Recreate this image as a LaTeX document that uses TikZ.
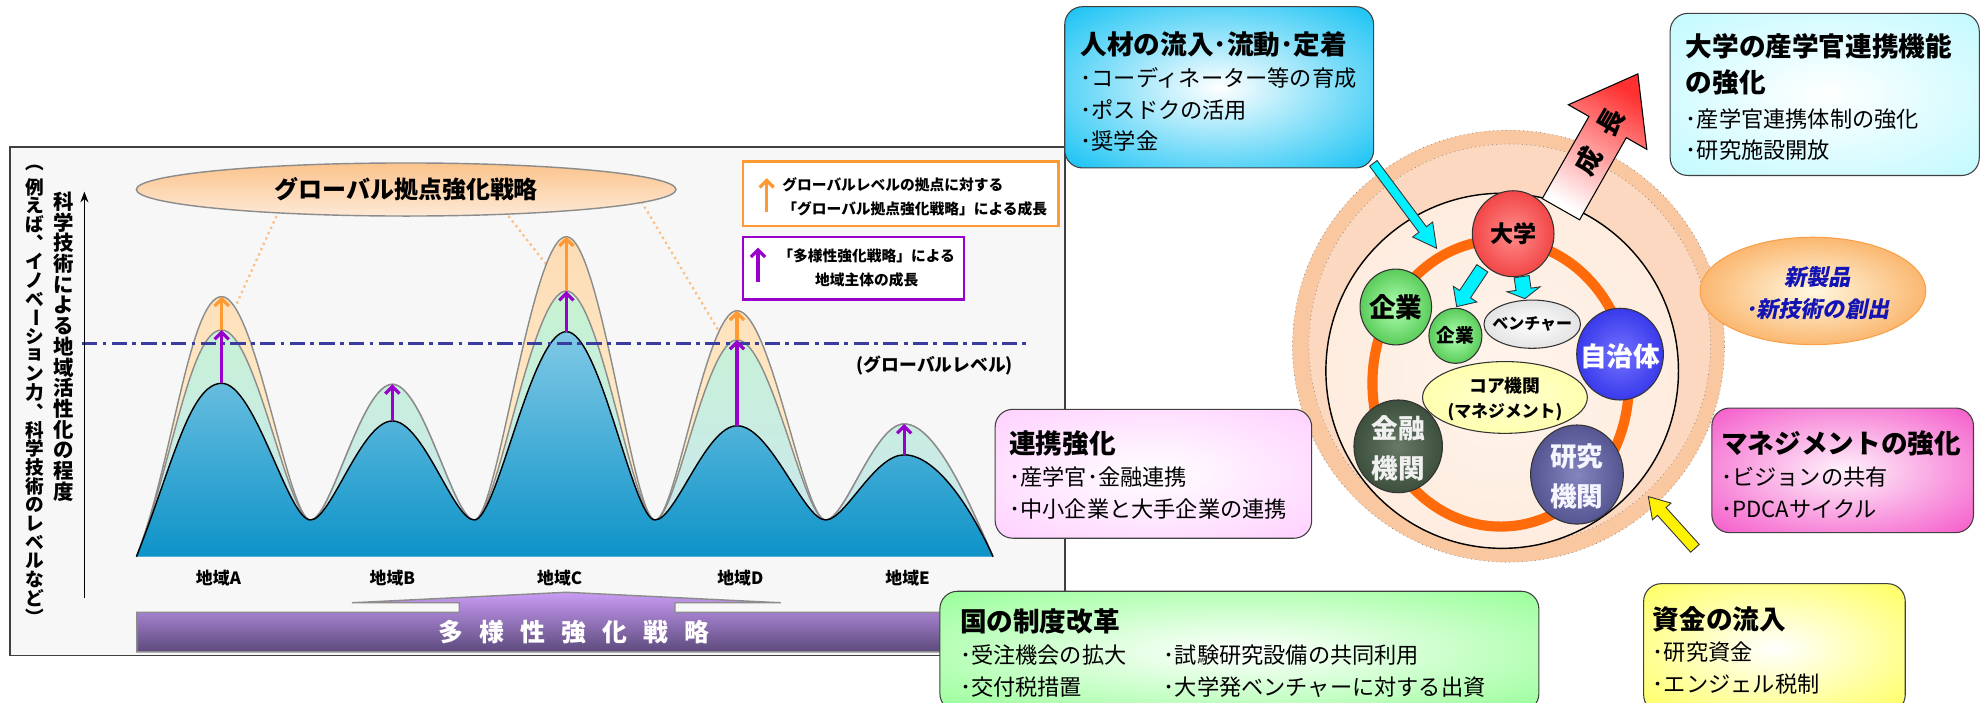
\documentclass[tikz,border=0pt]{standalone}
\usepackage{fontspec}
\setmainfont{Noto Sans CJK JP}
\newfontfamily\slantjp{Noto Sans CJK JP}[FakeSlant=0.2]
\usetikzlibrary{arrows.meta,calc,shapes.geometric}

% colours
\definecolor{panelbg}{HTML}{F7F7F7}
\definecolor{peakbluetop}{HTML}{80C9E6}
\definecolor{peakblue}{HTML}{0E93C8}
\definecolor{peakgreen}{HTML}{C6F3D0}
\definecolor{peakgreenlow}{HTML}{CCE6F2}
\definecolor{peakorange}{HTML}{FDDCB6}
\definecolor{peakorangelow}{HTML}{FFF3D0}
\definecolor{levelblue}{HTML}{3B3C9F}
\definecolor{growpurple}{HTML}{9900CC}
\definecolor{groworange}{HTML}{FF9A33}
\definecolor{guideorange}{HTML}{FBC08A}
\definecolor{titletop}{HTML}{FBC38C}
\definecolor{titlelow}{HTML}{FEE9D6}
\definecolor{barlight}{HTML}{C99CF5}
\definecolor{bardark}{HTML}{5C4A7C}
\definecolor{ringout}{HTML}{F9C8A0}
\definecolor{ringmid}{HTML}{FCD8C0}
\definecolor{ringin}{HTML}{FDE4D2}
\definecolor{ringlight}{HTML}{FFF4EC}
\definecolor{ringorange}{HTML}{FF6A0A}
\definecolor{boxcyan}{HTML}{1EC4F4}
\definecolor{boxaqua}{HTML}{C4FAFF}
\definecolor{boxpink}{HTML}{FFD2FF}
\definecolor{boxmagenta}{HTML}{F560CC}
\definecolor{boxyellow}{HTML}{FFFF66}
\definecolor{boxgreen}{HTML}{9CFF9C}
\definecolor{arrowcyan}{HTML}{00F0FF}
\definecolor{newblue}{HTML}{1414B4}
\definecolor{neworange}{HTML}{F9A048}
\definecolor{newlight}{HTML}{FFF8E0}
\definecolor{seichored}{HTML}{FF3030}
\definecolor{kinyuin}{HTML}{667A66}
\definecolor{kinyuout}{HTML}{142414}
\definecolor{kenkyuin}{HTML}{8484BE}
\definecolor{kenkyuout}{HTML}{262666}

% radial fills, inner colour in the middle, outer colour towards the rim
\makeatletter
\pgfdeclareradialshading[tikz@radial@inner,tikz@radial@outer]{glow}{\pgfpointorigin}{%
  color(0bp)=(tikz@radial@inner); color(34bp)=(tikz@radial@outer); color(50bp)=(tikz@radial@outer)}
\pgfdeclareradialshading[tikz@radial@inner,tikz@radial@outer]{sphere}{\pgfpointorigin}{%
  color(0bp)=(tikz@radial@inner); color(50bp)=(tikz@radial@outer)}
\makeatother

\tikzset{
  glow/.style 2 args={inner color=#1, outer color=#2, shading=glow},
  sphere/.style 2 args={inner color=#1, outer color=#2, shading=sphere},
  panel/.style={draw=black!75, line width=0.8pt, fill=panelbg},
  guide/.style={guideorange, line width=1.3pt, dotted},
  ridgeline/.style={draw=black!45, line width=0.8pt},
  levelline/.style={levelblue, line width=1.8pt, dash pattern=on 8.5pt off 3pt on 2.2pt off 3pt},
  purplegrow/.style={growpurple, line width=1.8pt, -{Straight Barb[length=4pt,width=8pt]}},
  orangegrow/.style={groworange, line width=1.8pt, -{Straight Barb[length=4pt,width=8pt]}},
  region/.style={inner sep=0pt, font=\bfseries\fontsize{9.5}{11}\selectfont},
  tate/.style={inner sep=0pt},
  legendbox/.style={line width=1.5pt, fill=white, inner sep=0pt},
  legendtext/.style={inner sep=0pt, font=\bfseries\fontsize{8.3}{13.2}\selectfont},
  infobox/.style={rectangle, draw=black!75, line width=0.6pt, rounded corners=0.35cm, inner sep=0pt},
  boxtext/.style={anchor=west, align=left, inner sep=0pt, font=\fontsize{12.5}{17.8}\selectfont},
  ball/.style={ellipse, draw=black!80, line width=0.6pt, inner sep=0pt},
  balltext/.style={inner sep=0pt, align=center, font=\bfseries\fontsize{15}{22.5}\selectfont},
  cyanarrow/.style={draw=black!80, line width=0.5pt, fill=arrowcyan},
}

\newcommand{\boxhead}[1]{{\bfseries\fontsize{15}{17.8}\selectfont #1}}

% one row of mountains, the arguments are the five peak heights
\newcommand{\ridge}[5]{%
  (108,-440.6) .. controls (136,-370) and (150,-#1) .. (175.5,-#1)
  .. controls (202,-#1) and (228,-411.6) .. (245.8,-411.6)
  .. controls (262,-411.6) and (286,-#2) .. (310.6,-#2)
  .. controls (335,-#2) and (359,-411.6) .. (375.4,-411.6)
  .. controls (393.6,-411.6) and (420.6,-#3) .. (448.3,-#3)
  .. controls (475,-#3) and (501,-411.6) .. (518.5,-411.6)
  .. controls (534.7,-411.6) and (558.7,-#4) .. (583.4,-#4)
  .. controls (610,-#4) and (636,-411.6) .. (653.5,-411.6)
  .. controls (669,-411.6) and (692,-#5) .. (715.7,-#5)
  .. controls (742,-#5) and (770,-405) .. (786,-440.6)}

% block arrow: style, tail, tip, half shaft, half head, head length
\newcommand{\blockarrow}[6]{%
  \coordinate (neck) at ($(#3)!#6!(#2)$);
  \draw[#1] ($(#2)!#4!90:(#3)$) -- ($(neck)!#4!90:(#3)$)
    -- ($(neck)!#5!90:(#3)$) -- (#3)
    -- ($(neck)!#5!-90:(#3)$) -- ($(neck)!#4!-90:(#3)$)
    -- ($(#2)!#4!-90:(#3)$) -- cycle;}

\begin{document}
\begin{tikzpicture}[x=0.025cm, y=0.025cm]
  \useasboundingbox (0,0) rectangle (1568,-556);

  % left panel
  \draw[panel] (8,-116.5) rectangle (843,-519);

  % dotted guides from the strategy title
  \coordinate (guide-a0) at (218.8,-171); \coordinate (guide-a1) at (186.3,-242.7);
  \coordinate (guide-c0) at (402.4,-171); \coordinate (guide-c1) at (434.8,-212.4);
  \coordinate (guide-d0) at (507.7,-159.6); \coordinate (guide-d1) at (569.9,-263.8);
  \draw[guide] (guide-a0) -- (guide-a1);
  \draw[guide] (guide-c0) -- (guide-c1);
  \draw[guide] (guide-d0) -- (guide-d1);

  \node[ellipse, draw=black!45, line width=0.8pt, inner sep=0pt, top color=titletop, bottom color=titlelow,
    minimum width=10.675cm, minimum height=1.05cm, font=\bfseries\fontsize{13.5}{16}\selectfont]
    (global) at (321.5,-150) {グローバル拠点強化戦略};

  % mountains
  \path[top color=peakorange, bottom color=peakorangelow] \ridge{234.8}{304.2}{187.3}{245.9}{335.6} -- cycle;
  \draw[ridgeline] \ridge{234.8}{304.2}{187.3}{245.9}{335.6};
  \path[top color=peakgreen, bottom color=peakgreenlow] \ridge{261.2}{304.2}{230.3}{269}{335.6} -- cycle;
  \draw[ridgeline] \ridge{261.2}{304.2}{230.3}{269}{335.6};
  \path[top color=peakbluetop, bottom color=peakblue] \ridge{303.4}{333.2}{262.5}{337}{360} -- cycle;
  \draw[line width=0.8pt] \ridge{303.4}{333.2}{262.5}{337}{360};

  \foreach \n/\x/\yb/\yg/\yo in {a/175.5/303.4/261.2/234.8, b/310.6/333.2/304.2/304.2,
      c/448.3/262.5/230.3/187.3, d/583.4/337/269/245.9, e/715.7/360/335.6/335.6} {
    \coordinate (blue-\n) at (\x,-\yb);
    \coordinate (green-\n) at (\x,-\yg);
    \coordinate (orange-\n) at (\x,-\yo);
  }

  % global level
  \coordinate (level-l) at (65,-271.8);
  \coordinate (level-r) at (813,-271.8);
  \draw[levelline] (level-l) -- (level-r);
  \node[inner sep=0pt, font=\bfseries\fontsize{10}{12}\selectfont] (level-txt) at (740,-289) {(グローバルレベル)};

  % growth of each region
  \foreach \n in {a,b,c,d,e}
    \draw[purplegrow] (blue-\n) -- (green-\n);
  \foreach \n in {a,c,d}
    \draw[orangegrow] (green-\n) -- (orange-\n);

  \foreach \n/\x/\t in {a/172.9/A, b/310.6/B, c/443/C, d/586/D, e/718.4/E}
    \node[region] (region-\n) at (\x,-457.8) {地域\t};

  % diversity strategy bar
  \path[draw=black!45, line width=0.8pt, top color=barlight, bottom color=bardark]
    (108.3,-484.6) -- (363.5,-484.6) -- (363.5,-477.1) -- (278.6,-477.1) -- (448.3,-468.8)
    -- (618,-477.1) -- (534.3,-477.1) -- (534.3,-484.6) -- (790,-484.6) -- (790,-516)
    -- (108.3,-516) -- cycle;
  \node[inner sep=0pt, text=white, font=\bfseries\fontsize{14}{16}\selectfont\addfontfeatures{LetterSpace=65}]
    (bar-txt) at (454,-500) {多様性強化戦略};

  % legend
  \node[legendbox, draw=groworange, minimum width=6.25cm, minimum height=1.275cm] (legend-global) at (713,-153.5) {};
  \node[legendtext, anchor=west, align=left] (legend-global-txt) at (619,-155.7)
    {グローバルレベルの拠点に対する\\「グローバル拠点強化戦略」による成長};
  \coordinate (legend-o0) at (606.8,-167.5);
  \coordinate (legend-o1) at (606.8,-141);
  \draw[orangegrow] (legend-o0) -- (legend-o1);

  \node[legendbox, draw=growpurple, minimum width=4.375cm, minimum height=1.23cm] (legend-local) at (675.5,-212.2) {};
  \node[legendtext, align=center] (legend-local-txt) at (686,-212) {「多様性強化戦略」による\\地域主体の成長};
  \coordinate (legend-p0) at (600,-223);
  \coordinate (legend-p1) at (600,-196);
  \draw[purplegrow] (legend-p0) -- (legend-p1);

  % vertical axis and its caption
  \coordinate (yaxis-0) at (66.8,-473.5);
  \coordinate (yaxis-1) at (66.8,-151.7);
  \draw[line width=1pt, -{Stealth[length=6pt,width=4.5pt]}] (yaxis-0) -- (yaxis-1);

  \foreach \c [count=\i] in {科,学,技,術,に,よ,る,地,域,活,性,化,の,程,度}
    \node[tate, font=\bfseries\fontsize{11.5}{12}\selectfont] (tate-a\i) at (50.4,{-143.2-16.4*\i}) {\c};
  \foreach \c [count=\i] in {︵,例,え,ば,︑,イ,ノ,ベ,\rotatebox{-90}{ー},シ,ョ,ン,力,︑,科,学,技,術,の,レ,ベ,ル,な,ど,︶}
    \node[tate, font=\bfseries\fontsize{10.5}{11}\selectfont] (tate-b\i) at (27.2,{-118.4-14.8*\i}) {\c};

  % cluster
  \filldraw[fill=ringout, draw=black!50, dotted] (1194,-274) circle[radius=171];
  \filldraw[fill=ringmid, draw=black!50, dotted] (1195,-273) circle[radius=159];
  \node[ellipse, draw, line width=0.8pt, sphere={ringlight}{ringin}, minimum width=6.975cm, minimum height=7.025cm]
    (field) at (1189,-293.5) {};
  \draw[ringorange, line width=5.7pt] (1187.8,-303.4) ellipse[x radius=101.5, y radius=113.4];

  \coordinate (seicho-base) at (1235.5,-165.6);
  \coordinate (seicho-tip) at (1296.4,-58.5);
  \blockarrow{draw=black, line width=0.6pt, top color=seichored, bottom color=white, shading angle=-30}
    {seicho-base}{seicho-tip}{0.425cm}{0.8925cm}{1.21cm}
  \node[rotate=60, inner sep=0pt, font=\bfseries\fontsize{15}{16}\selectfont] (seicho-txt) at (1266,-112) {成\hspace{0.7em}長};

  \coordinate (daigaku-a) at (1173.3,-212.4);
  \coordinate (kigyo-in) at (1153,-242.7);
  \coordinate (daigaku-b) at (1204.4,-219);
  \coordinate (venture-in) at (1207,-236.4);
  \blockarrow{cyanarrow}{daigaku-a}{kigyo-in}{0.131cm}{0.28cm}{0.2975cm}
  \blockarrow{cyanarrow}{daigaku-b}{venture-in}{0.15cm}{0.33cm}{0.1875cm}

  \node[ball, sphere={white}{black!22}, minimum width=1.91cm, minimum height=0.955cm] (venture) at (1212.8,-256.6) {};
  \node[inner sep=0pt, font=\bfseries\fontsize{9}{10}\selectfont] (venture-txt) at (venture) {ベンチャー};

  \node[ball, sphere={white!40!yellow!30}{yellow!45}, minimum width=3.26cm, minimum height=1.42cm] (core) at (1191.2,-314.6) {};
  \node[inner sep=0pt, align=center, font=\bfseries\fontsize{10}{14}\selectfont] (core-txt) at (1191.2,-316)
    {コア機関\\{\fontsize{9.5}{14}\selectfont(マネジメント)}};

  \node[ball, sphere={red!45}{red!90!black}, minimum width=1.615cm, minimum height=1.7cm] (daigaku) at (1197.7,-185) {};
  \node[balltext, font=\bfseries\fontsize{13}{15}\selectfont] (daigaku-txt) at (daigaku) {大学};

  \node[ball, sphere={green!30}{green!60!black}, minimum width=1.415cm, minimum height=1.5cm] (kigyo-1) at (1104.8,-243) {};
  \node[balltext] (kigyo-1-txt) at (kigyo-1) {企業};

  \node[ball, sphere={green!30}{green!60!black}, minimum width=1.05cm, minimum height=1.09cm] (kigyo-2) at (1152,-265.8) {};
  \node[balltext, font=\bfseries\fontsize{10.5}{12}\selectfont] (kigyo-2-txt) at (kigyo-2) {企業};

  \node[ball, sphere={blue!55}{blue!85!black}, minimum width=1.715cm, minimum height=1.815cm] (jichitai) at (1282.3,-280.3) {};
  \node[balltext, text=white] (jichitai-txt) at (1282.3,-282.3) {自治体};

  \node[ball, sphere={kinyuin}{kinyuout}, minimum width=1.75cm, minimum height=1.835cm] (kinyu) at (1106.7,-353.3) {};
  \node[balltext, text=black!6] (kinyu-txt) at (1106.7,-354.9) {金融\\機関};

  \node[ball, sphere={kenkyuin}{kenkyuout}, minimum width=1.835cm, minimum height=1.96cm] (kenkyu) at (1248.2,-375.6) {};
  \node[balltext, text=blue!4] (kenkyu-txt) at (1248.2,-377.3) {研究\\機関};

  % new products
  \node[ellipse, draw=neworange, line width=0.6pt, glow={newlight}{neworange}, minimum width=4.465cm, minimum height=2.125cm]
    (newproduct) at (1435,-230.3) {};
  \node[inner sep=0pt, align=center, text=newblue, font=\slantjp\bfseries\fontsize{12.5}{17.6}\selectfont]
    (newproduct-txt) at (1438.5,-232) {新製品\\･新技術の創出};

  % inflows
  \coordinate (jinzai-out) at (1087,-129.3);
  \coordinate (field-in) at (1137.1,-196.5);
  \blockarrow{cyanarrow}{jinzai-out}{field-in}{0.0925cm}{0.2475cm}{0.4625cm}
  \coordinate (shikin-out) at (1341.6,-434);
  \coordinate (field-in2) at (1304.7,-393.1);
  \blockarrow{draw=black!80, line width=0.5pt, fill=yellow}{shikin-out}{field-in2}{0.115cm}{0.2475cm}{0.395cm}

  % measure boxes
  \node[infobox, glow={white}{boxcyan}, minimum width=6.11cm, minimum height=3.19cm] (jinzai) at (965,-69.1) {};
  \node[boxtext] (jinzai-txt) at (855,-72.6)
    {\boxhead{人材の流入･流動･定着}\\･コーディネーター等の育成\\･ポスドクの活用\\･奨学金};

  \node[infobox, glow={white}{boxaqua}, minimum width=6.115cm, minimum height=3.2075cm] (sangaku) at (1444.3,-74.75) {};
  \node[boxtext] (sangaku-txt) at (1334,-77.1)
    {\boxhead{大学の産学官連携機能}\\[2pt]\boxhead{の強化}\\[2pt]･産学官連携体制の強化\\･研究施設開放};

  \node[infobox, glow={white}{boxpink}, minimum width=6.2625cm, minimum height=2.55cm] (renkei) at (912.95,-375) {};
  \node[boxtext] (renkei-txt) at (798.6,-376)
    {\boxhead{連携強化}\\･産学官･金融連携\\･中小企業と大手企業の連携};

  \node[infobox, glow={boxmagenta!8}{boxmagenta}, minimum width=5.175cm, minimum height=2.465cm] (mane) at (1458.5,-372.3) {};
  \node[boxtext] (mane-txt) at (1362,-375.6)
    {\boxhead{マネジメントの強化}\\･ビジョンの共有\\･PDCAサイクル};

  \node[infobox, glow={white}{boxyellow}, minimum width=5.175cm, minimum height=2.55cm] (shikin) at (1404.5,-513) {};
  \node[boxtext] (shikin-txt) at (1308,-514.7)
    {\boxhead{資金の流入}\\･研究資金\\･エンジェル税制};

  \node[infobox, glow={white}{boxgreen}, minimum width=11.85cm, minimum height=2.375cm] (kuni) at (981,-515.5) {};
  \node[boxtext] (kuni-txt) at (759.6,-517)
    {\boxhead{国の制度改革}\\
     \makebox[4.03cm][l]{･受注機会の拡大}･試験研究設備の共同利用\\
     \makebox[4.03cm][l]{･交付税措置}･大学発ベンチャーに対する出資};
\end{tikzpicture}
\end{document}
